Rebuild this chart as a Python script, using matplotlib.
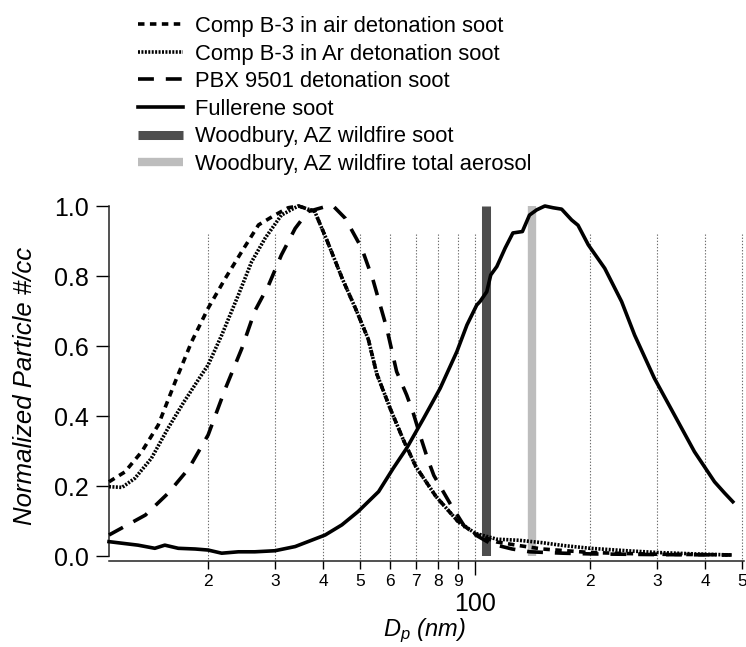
import matplotlib

matplotlib.use("Agg")
import matplotlib.pyplot as plt
from matplotlib.ticker import FixedLocator, FuncFormatter

plt.rcParams["font.family"] = "Liberation Sans"
plt.rcParams["mathtext.fontset"] = "custom"
plt.rcParams["mathtext.rm"] = "Liberation Sans"
plt.rcParams["mathtext.it"] = "Liberation Sans:italic"

# particle diameter (nm) / normalized number concentration
air_x = [11.0, 12.1, 13.4, 14.8, 16.4, 18.1, 20.0, 22.2, 24.5, 27.1, 29.9, 32.4, 34.5,
         38.0, 41.0, 45.0, 48.5, 52.5, 55.3, 60.0, 65.0, 70.0, 79.0, 90.0, 100.0, 114.0,
         130.0, 150.0, 200.0, 250.0, 300.0, 400.0, 470.0]
air_y = [0.212, 0.24, 0.298, 0.374, 0.498, 0.612, 0.708, 0.794, 0.87, 0.946, 0.974, 0.995, 1.0,
         0.985, 0.9, 0.79, 0.71, 0.62, 0.52, 0.42, 0.33, 0.255, 0.17, 0.10, 0.063, 0.04,
         0.03, 0.02, 0.01, 0.007, 0.005, 0.004, 0.003]

ar_x = [11.0, 11.9, 12.86, 14.2, 15.7, 17.3, 19.2, 20.0, 21.7, 24.0, 26.0, 28.2, 31.1, 34.4,
        38.0, 41.0, 45.0, 48.5, 52.5, 55.3, 60.0, 65.0, 70.0, 79.0, 90.0, 100.0, 114.0,
        130.0, 150.0, 170.0, 200.0, 250.0, 300.0, 400.0, 470.0]
ar_y = [0.198, 0.196, 0.222, 0.279, 0.365, 0.441, 0.517, 0.546, 0.631, 0.746, 0.841, 0.908, 0.974, 1.0,
        0.985, 0.9, 0.79, 0.71, 0.62, 0.52, 0.42, 0.33, 0.255, 0.17, 0.10, 0.065, 0.048,
        0.045, 0.038, 0.03, 0.022, 0.015, 0.01, 0.005, 0.003]

pbx_x = [11.0, 13.7, 15.7, 17.8, 20.0, 22.2, 24.5, 26.5, 28.8, 31.1, 33.8, 36.5, 40.5, 42.5,
         45.7, 50.5, 54.0, 58.7, 62.3, 66.2, 68.9, 71.7, 75.0, 78.0, 86.0, 95.0, 110.0,
         125.0, 139.0, 170.0, 200.0, 300.0, 470.0]
pbx_y = [0.06, 0.117, 0.179, 0.25, 0.346, 0.479, 0.593, 0.70, 0.774, 0.86, 0.936, 0.984, 0.998, 1.0,
         0.965, 0.879, 0.79, 0.651, 0.527, 0.46, 0.408, 0.346, 0.28, 0.23, 0.15, 0.075, 0.035,
         0.02, 0.012, 0.008, 0.006, 0.004, 0.003]

ful_x = [11.0, 12.0, 13.1, 14.5, 15.4, 16.7, 18.5, 20.0, 21.7, 24.0, 26.5, 29.9, 33.8, 36.5,
         40.5, 44.8, 49.4, 55.9, 61.0, 66.2, 73.3, 81.0, 89.6, 95.2, 101.0, 103.0, 107.3, 109.9,
         114.0, 119.9, 125.6, 133.0, 138.8, 145.0, 152.3, 160.0, 168.5, 179.0, 186.0, 197.9,
         218.5, 241.9, 261.7, 294.7, 332.6, 375.3, 423.6, 450.0, 473.0]
ful_y = [0.041, 0.036, 0.031, 0.022, 0.031, 0.022, 0.02, 0.017, 0.008, 0.012, 0.012, 0.015, 0.027, 0.041,
         0.06, 0.089, 0.127, 0.184, 0.25, 0.308, 0.393, 0.479, 0.584, 0.66, 0.717, 0.727, 0.755, 0.803,
         0.827, 0.88, 0.923, 0.927, 0.974, 0.989, 1.0, 0.995, 0.991, 0.96, 0.945, 0.889,
         0.822, 0.727, 0.631, 0.508, 0.403, 0.298, 0.212, 0.18, 0.155]

wildfire_soot_d = 106.8
wildfire_total_d = 141.0

labels = ["Comp B-3 in air detonation soot", "Comp B-3 in Ar detonation soot",
          "PBX 9501 detonation soot", "Fullerene soot",
          "Woodbury, AZ wildfire soot", "Woodbury, AZ wildfire total aerosol"]

grid_x = [20, 30, 40, 50, 60, 70, 80, 90, 100, 200, 300, 400, 500]
minor_x = [20, 30, 40, 50, 60, 70, 80, 90, 200, 300, 400, 500]

W, H = 746, 647
fig = plt.figure(figsize=(W / 100, H / 100), dpi=100)
ax = fig.add_axes([109 / W, 1 - 556 / H, 635 / W, 350 / H])

ax.vlines(grid_x, -0.016, 0.92, colors="#6e6e6e", linestyles=(0, (1.2, 1.6)), lw=0.8,
          clip_on=False, zorder=1)

h5, = ax.plot([wildfire_soot_d] * 2, [0, 1], color="#4d4d4d", lw=6.5,
              solid_capstyle="butt", zorder=2, label=labels[4])
h6, = ax.plot([wildfire_total_d] * 2, [0, 1], color="#bdbdbd", lw=6.0,
              solid_capstyle="butt", zorder=2, label=labels[5])

lw = 2.6
h1, = ax.plot(air_x, air_y, color="black", lw=lw, ls=(0, (1.8, 1.5)), clip_on=False, zorder=3)
h2, = ax.plot(ar_x, ar_y, color="black", lw=lw, ls=(0, (0.55, 0.4)), clip_on=False, zorder=3)
h3, = ax.plot(pbx_x, pbx_y, color="black", lw=lw, ls=(0, (4.4, 3.3)), clip_on=False, zorder=3)
h4, = ax.plot(ful_x, ful_y, color="black", lw=lw, clip_on=False, zorder=3)

ax.set_xscale("log")
ax.set_xlim(11.0, 506)
ax.set_ylim(0, 1.0)


def leading_digit(v, pos):
    return str(int(round(v / 10 ** (len(str(int(round(v)))) - 1))))


ax.xaxis.set_major_locator(FixedLocator([100]))
ax.xaxis.set_minor_locator(FixedLocator(minor_x))
ax.xaxis.set_major_formatter(FuncFormatter(lambda v, p: "100"))
ax.xaxis.set_minor_formatter(FuncFormatter(leading_digit))
ax.tick_params(axis="x", which="major", direction="out", length=10, width=1.0,
               labelsize=18, pad=12)
ax.tick_params(axis="x", which="minor", direction="out", length=6, width=1.0,
               labelsize=12.5, pad=3)

ax.set_yticks([0.0, 0.2, 0.4, 0.6, 0.8, 1.0])
ax.set_yticklabels(["0.0", "0.2", "0.4", "0.6", "0.8", "1.0"])
ax.tick_params(axis="y", direction="out", length=9.5, width=1.0, labelsize=18, pad=5)

for side in ("top", "right"):
    ax.spines[side].set_visible(False)
ax.spines["bottom"].set_position(("outward", 3.6))
for side in ("left", "bottom"):
    ax.spines[side].set_linewidth(1.1)
    ax.spines[side].set_color("#222222")

fig.text(25 / W, 1 - 386 / H, "Normalized Particle #/cc", rotation=90, ha="center",
         va="center", fontsize=18.5, style="italic")
fig.text(424 / W, 1 - 636 / H, r"$D_p$ (nm)", ha="center", va="baseline",
         fontsize=17, style="italic")

fig.legend([h1, h2, h3, h4, h5, h6], labels, loc="upper left",
           bbox_to_anchor=(138 / W, 1 - 16 / H), frameon=False, fontsize=15.8,
           borderpad=0, borderaxespad=0, handlelength=2.05, handletextpad=0.55,
           labelspacing=0.3)

fig.savefig("out.png", dpi=100)
